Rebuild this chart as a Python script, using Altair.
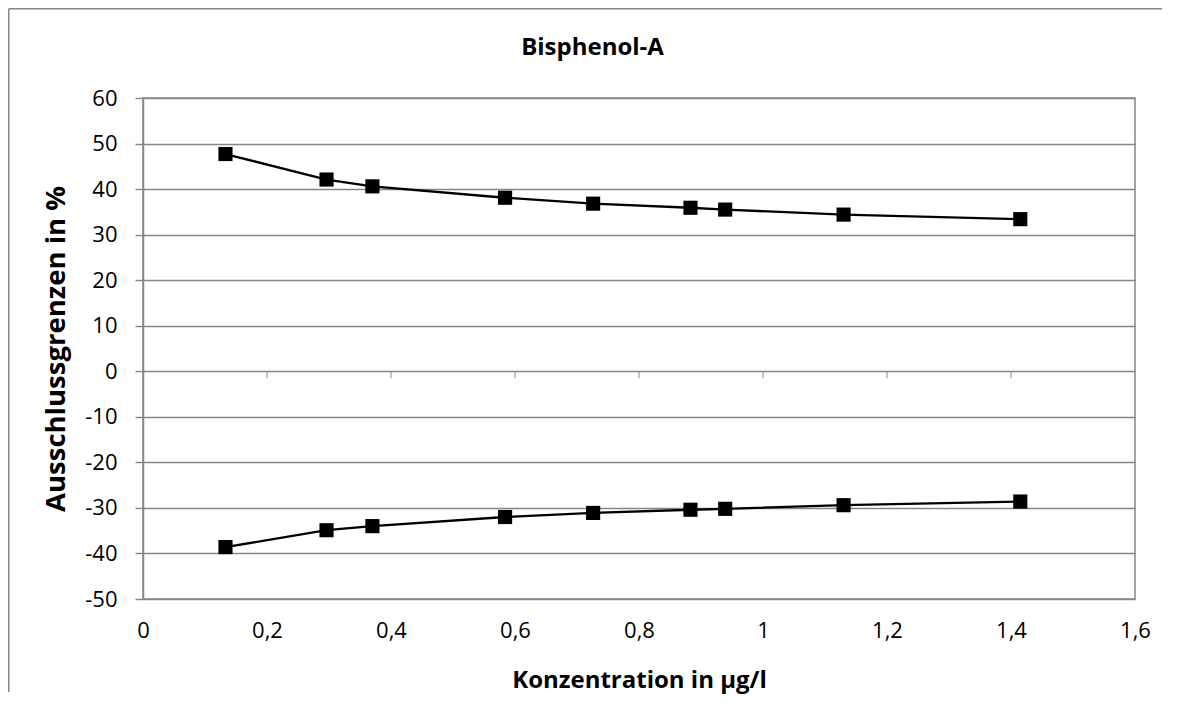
import altair as alt
import pandas as pd

# --- data ---
konzentration = [0.133, 0.296, 0.370, 0.584, 0.726, 0.883, 0.939, 1.130, 1.415]
obere_grenze = [47.7, 42.1, 40.6, 38.1, 36.8, 35.9, 35.5, 34.4, 33.4]
untere_grenze = [-38.6, -34.9, -34.0, -32.0, -31.1, -30.4, -30.2, -29.4, -28.6]
x_ticks = [0, 0.2, 0.4, 0.6, 0.8, 1.0, 1.2, 1.4, 1.6]
y_ticks = [-50, -40, -30, -20, -10, 0, 10, 20, 30, 40, 50, 60]
x_inner_ticks = [0.2, 0.4, 0.6, 0.8, 1.0, 1.2, 1.4]
chart_title = ["Bisphenol-A"]

df = pd.DataFrame({
    "x": konzentration + konzentration,
    "y": obere_grenze + untere_grenze,
    "serie": ["oben"] * len(konzentration) + ["unten"] * len(konzentration),
})
ticks_df = pd.DataFrame({"t": x_inner_ticks})
title_df = pd.DataFrame({"label": chart_title})
dummy = pd.DataFrame({"a": [0]})

GRAY = "#868686"
FONT = "Open Sans"

x_enc = alt.X(
    "x:Q",
    scale=alt.Scale(domain=[0, 1.6], nice=False, zero=False),
    axis=alt.Axis(
        values=x_ticks,
        title="Konzentration in µg/l",
        labelExpr="replace(format(datum.value, '.1~f'), '.', ',')",
        ticks=False,
        tickSize=0,
        domain=False,
        grid=False,
        labelPadding=21,
        labelFontSize=22,
        labelFlush=False,
        labelOverlap=False,
        titleFontSize=24,
        titleFontWeight="bold",
        titleY=88,
        titleBaseline="alphabetic",
    ),
)
y_enc = alt.Y(
    "y:Q",
    scale=alt.Scale(domain=[-50, 60], nice=False, zero=False),
    axis=alt.Axis(
        values=y_ticks,
        title="Ausschlussgrenzen in %",
        labelExpr="toString(datum.value)",
        grid=True,
        gridColor=GRAY,
        gridWidth=1.4,
        domain=True,
        domainColor=GRAY,
        domainWidth=1.5,
        ticks=True,
        tickColor=GRAY,
        tickWidth=1.4,
        tickSize=8,
        labelPadding=18,
        labelFontSize=22,
        labelOverlap=False,
        labelFlush=False,
        titleFontSize=27.5,
        titleFontWeight="bold",
        titleAngle=270,
        titleBaseline="alphabetic",
        titleX=-79,
    ),
)

lines = alt.Chart(df).mark_line(color="black", strokeWidth=2.3).encode(
    x=x_enc, y=y_enc, detail="serie:N"
)
points = alt.Chart(df).mark_point(
    shape="square", filled=True, size=200, color="black", opacity=1
).encode(x="x:Q", y="y:Q", detail="serie:N")

zero_ticks = alt.Chart(ticks_df).mark_tick(
    orient="vertical", size=7, thickness=1.4, color=GRAY, yOffset=3.5
).encode(x="t:Q", y=alt.datum(0))

title_text = alt.Chart(title_df).mark_text(
    font=FONT, fontSize=24, fontWeight="bold", color="black",
    align="center", baseline="alphabetic"
).encode(text="label:N", x=alt.value(449.5), y=alt.value(-43))

border_top = alt.Chart(dummy).mark_rule(color=GRAY, strokeWidth=1.5).encode(
    x=alt.value(-134.25), x2=alt.value(1019), y=alt.value(-89.25)
)
border_left = alt.Chart(dummy).mark_rule(color=GRAY, strokeWidth=1.5).encode(
    x=alt.value(-134.25), y=alt.value(-89.25), y2=alt.value(594)
)

chart = alt.layer(
    border_top, border_left, zero_ticks, lines, points, title_text
).properties(
    width=992,
    height=501,
    autosize=alt.AutoSizeParams(type="none"),
    padding={"left": 135, "top": 90, "right": 35, "bottom": 100},
).configure_view(
    stroke=GRAY, strokeWidth=1.5
).configure_axis(
    labelFont=FONT, titleFont=FONT, labelColor="black", titleColor="black"
)

chart.save("out.html", embed_options={"renderer": "svg", "actions": False})
